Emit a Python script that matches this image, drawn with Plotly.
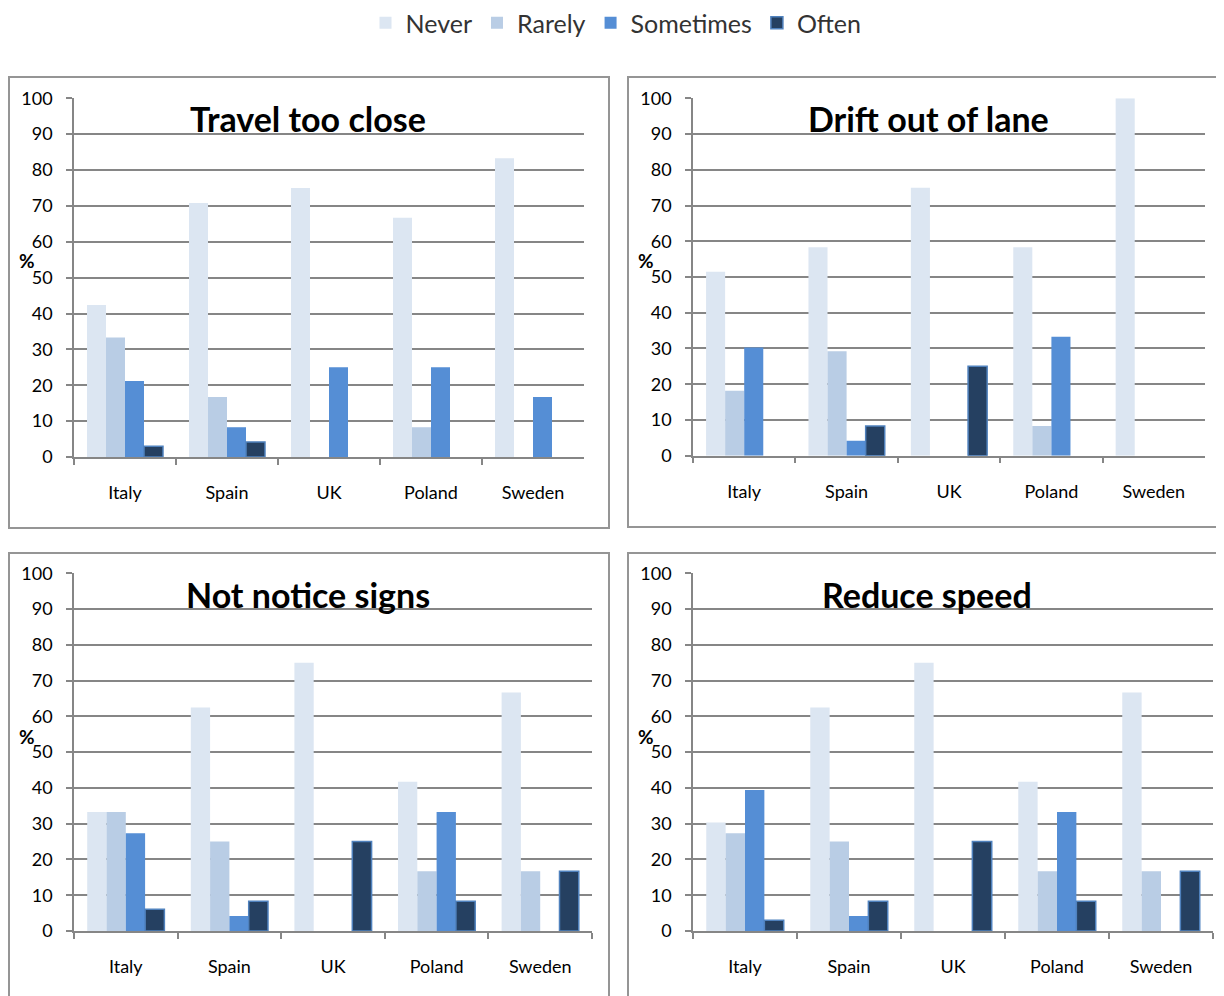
import plotly.graph_objects as go

# ---------------- data ----------------
categories = ["Italy", "Spain", "UK", "Poland", "Sweden"]
series_names = ["Never", "Rarely", "Sometimes", "Often"]
panel_titles = ["Travel too close", "Drift out of lane", "Not notice signs", "Reduce speed"]

travel_never = [42.4, 70.8, 75.0, 66.7, 83.3]
travel_rarely = [33.3, 16.7, 0.0, 8.3, 0.0]
travel_sometimes = [21.2, 8.3, 25.0, 25.0, 16.7]
travel_often = [3.0, 4.2, 0.0, 0.0, 0.0]

drift_never = [51.5, 58.3, 75.0, 58.3, 100.0]
drift_rarely = [18.2, 29.2, 0.0, 8.3, 0.0]
drift_sometimes = [30.3, 4.2, 0.0, 33.3, 0.0]
drift_often = [0.0, 8.3, 25.0, 0.0, 0.0]

signs_never = [33.3, 62.5, 75.0, 41.7, 66.7]
signs_rarely = [33.3, 25.0, 0.0, 16.7, 16.7]
signs_sometimes = [27.3, 4.2, 0.0, 33.3, 0.0]
signs_often = [6.1, 8.3, 25.0, 8.3, 16.7]

speed_never = [30.3, 62.5, 75.0, 41.7, 66.7]
speed_rarely = [27.3, 25.0, 0.0, 16.7, 16.7]
speed_sometimes = [39.4, 4.2, 0.0, 33.3, 0.0]
speed_often = [3.0, 8.3, 25.0, 8.3, 16.7]

y_ticks = [0, 10, 20, 30, 40, 50, 60, 70, 80, 90, 100]

panels = [
    [travel_never, travel_rarely, travel_sometimes, travel_often],
    [drift_never, drift_rarely, drift_sometimes, drift_often],
    [signs_never, signs_rarely, signs_sometimes, signs_often],
    [speed_never, speed_rarely, speed_sometimes, speed_often],
]

# ---------------- style ----------------
W, H = 1224, 996
OFF = 8  # page body margin in the browser
FONT = "Lato"
fills = ["#DCE6F2", "#B9CDE5", "#558ED5", "#254061"]
lines = ["rgba(0,0,0,0)", "rgba(0,0,0,0)", "rgba(0,0,0,0)", "#4F81BD"]
line_w = [0, 0, 0, 1.5]
GRID = "#868686"
BOX = "#959595"


def px(x):
    return (x - OFF) / W


def py(y):
    return 1 - (y - OFF) / H


# plot areas in screen pixels: (x0, x1, ytop, ybottom)
plot_px = [
    (74, 584, 98.3, 457),
    (693, 1205, 98.3, 455.7),
    (74, 592, 573.3, 931),
    (693, 1213, 573.3, 931),
]
# panel boxes in screen pixels
box_px = [
    (8, 77, 609, 528),
    (627, 77, 1240, 527),
    (8, 553, 609, 1012),
    (627, 553, 1240, 1012),
]
title_cx = [308, 928, 308, 927]

fig = go.Figure()

for p, data in enumerate(panels):
    ax = "" if p == 0 else str(p + 1)
    for s, vals in enumerate(data):
        fig.add_trace(go.Bar(
            x=categories, y=vals, name=series_names[s],
            marker=dict(color=fills[s],
                        line=dict(color=lines[s],
                                  width=[line_w[s] if v > 0 else 0 for v in vals])),
            xaxis="x" + ax, yaxis="y" + ax,
            legendgroup=series_names[s], showlegend=(p == 0),
            hoverinfo="x+y+name",
        ))
    x0, x1, yt, yb = plot_px[p]
    fig.layout["xaxis" + ax] = dict(
        domain=[px(x0), px(x1)], anchor="y" + ax,
        range=[-0.5, 4.5], tickson="boundaries", ticks="outside", ticklen=6,
        tickcolor=GRID, tickwidth=1.5, showline=True, linecolor=GRID, linewidth=1.5,
        showgrid=False, tickfont=dict(family=FONT, size=18, color="#000000"),
        ticklabelstandoff=19, fixedrange=True,
    )
    fig.layout["yaxis" + ax] = dict(
        domain=[py(yb), py(yt)], anchor="x" + ax,
        range=[0, 100], tickvals=y_ticks, ticks="outside", ticklen=6,
        tickcolor=GRID, tickwidth=1.5, showline=True, linecolor=GRID, linewidth=1.5,
        showgrid=True, gridcolor=GRID, gridwidth=1.5, zeroline=False,
        tickfont=dict(family=FONT, size=18, color="#000000"),
        ticklabelstandoff=10, fixedrange=True,
    )
    bx0, by0, bx1, by1 = box_px[p]
    fig.add_shape(type="rect", xref="paper", yref="paper",
                  x0=px(bx0 + 1), x1=px(bx1), y0=py(by1), y1=py(by0),
                  line=dict(color=BOX, width=2), fillcolor="rgba(0,0,0,0)", layer="below")
    # panel title
    fig.add_annotation(text="<b>" + panel_titles[p] + "</b>", xref="paper", yref="paper",
                       x=px(title_cx[p]), y=py(by0 + 41), xanchor="center", yanchor="middle",
                       showarrow=False, font=dict(family=FONT, size=34, color="#000000"))
    # % label
    fig.add_annotation(text="<b>%</b>", xref="paper", yref="paper",
                       x=px(bx0 + 19), y=py(by0 + 183), xanchor="center", yanchor="middle",
                       showarrow=False, font=dict(family=FONT, size=19, color="#000000"))

fig.update_layout(
    width=W, height=H, margin=dict(l=0, r=0, t=0, b=0, autoexpand=False),
    paper_bgcolor="white", plot_bgcolor="white",
    barmode="group", bargap=0.255, bargroupgap=0,
    legend=dict(orientation="h", xref="container", yref="container",
                x=px(616), xanchor="center", y=py(23), yanchor="middle",
                font=dict(family=FONT, size=25, color="#333333"),
                itemwidth=30, traceorder="normal"),
    font=dict(family=FONT),
)

fig.write_html("out.html")
